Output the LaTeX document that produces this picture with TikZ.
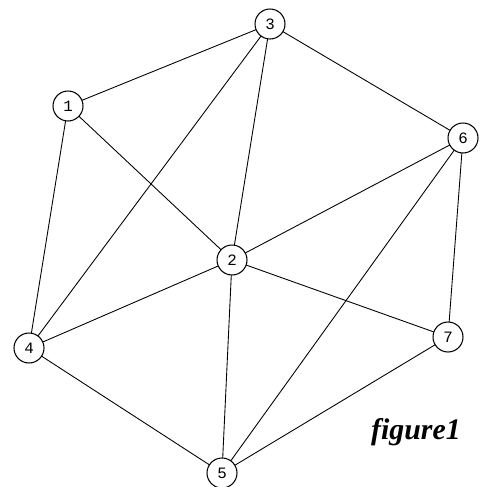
\documentclass[tikz,border=0pt]{standalone}
\usepackage{fontspec}
\setmonofont{Liberation Mono}
\newfontfamily\capfont{Liberation Serif}
\usepackage{tikz}

\begin{document}
\begin{tikzpicture}[x=0.02cm,y=-0.02cm,
  vtx/.style={circle,draw,fill=white,line width=0.6pt,minimum size=0.6cm,inner sep=0pt,font=\ttfamily\small}]
\useasboundingbox (0,0) rectangle (485,487);
\node (n1) at (68,106) {};
\node (n2) at (232,260) {};
\node (n3) at (270,24) {};
\node (n4) at (29,348) {};
\node (n5) at (222,473) {};
\node (n6) at (463,138) {};
\node (n7) at (448,337) {};
\foreach \a/\b in {1/3,1/2,1/4,3/6,3/2,3/4,6/2,6/7,6/5,2/4,2/5,2/7,4/5,5/7}{
\draw[line width=0.5pt] (n\a) -- (n\b);
}
\foreach \i in {1,...,7}{
\node[vtx] at (n\i) {\i};
}
\node (cap) at (416,432) {\capfont\fontsize{17}{20}\selectfont\bfseries\itshape figure1};
\end{tikzpicture}
\end{document}
